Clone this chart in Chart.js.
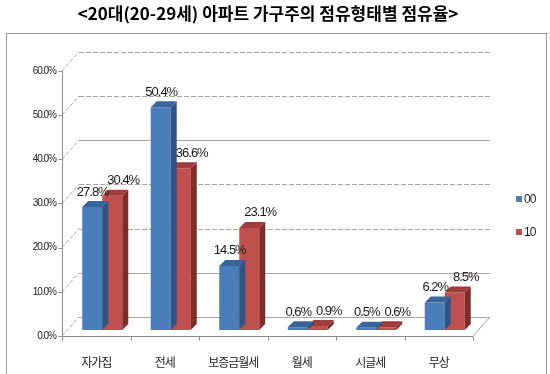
<!DOCTYPE html>
<html>
<head>
<meta charset="utf-8">
<script src="https://cdn.jsdelivr.net/npm/chart.js@4"></script>
<style>
html,body{margin:0;padding:0;background:#fff;}
#wrap{width:550px;height:374px;position:relative;}
</style>
</head>
<body>
<div id="wrap"><canvas id="c" width="550" height="374"></canvas></div>
<script>
const titleText = '<20대(20-29세) 아파트 가구주의 점유형태별 점유율>';
const categories = ['자가집', '전세', '보증금월세', '월세', '시글세', '무상'];
const seriesNames = ['00', '10'];
const values00 = [27.8, 50.4, 14.5, 0.6, 0.5, 6.2];
const values10 = [30.4, 36.6, 23.1, 0.9, 0.6, 8.5];
const yTickValues = [0, 10, 20, 30, 40, 50, 60];

// styling / geometry constants (not data)
const FRONT = {dx: -6, dy: 6};     // front axis plane relative to bar plane
const BACK = {dx: 11, dy: -13};    // back wall relative to bar plane
const DEPTH = {dx: 6, dy: 6};      // bar depth
const faceColors = ['#4A7EBB', '#C0504D'];
const sideColors = ['#2F5483', '#7E2D2B'];
const topColors = ['#3A659C', '#A03C39'];
const gridColor = '#a6a6a6';

const pseudo3d = {
  id: 'pseudo3d',
  beforeDraw(chart) {
    const ctx = chart.ctx;
    ctx.save();
    ctx.fillStyle = '#ffffff';
    ctx.fillRect(0, 0, chart.width, chart.height);
    ctx.strokeStyle = '#9a9a9a';
    ctx.lineWidth = 1;
    ctx.strokeRect(6.5, 33.5, 540, 360);
    // title
    ctx.letterSpacing = '0px';
    ctx.fillStyle = '#000';
    ctx.font = 'bold 17px "Noto Sans CJK KR", sans-serif';
    ctx.textAlign = 'center';
    ctx.textBaseline = 'middle';
    ctx.fillText(titleText, 268, 14);
    ctx.restore();
    ctx.letterSpacing = '-1px';
  },
  beforeDatasetsDraw(chart) {
    const ctx = chart.ctx;
    const ys = chart.scales.y;
    const area = chart.chartArea;
    ctx.save();
    ctx.lineWidth = 1;
    ctx.strokeStyle = gridColor;
    // back wall gridlines + left wall diagonals
    yTickValues.forEach(v => {
      const py = ys.getPixelForValue(v);
      const solid = (v === 0 || v === 10 || v === 40);
      ctx.setLineDash(solid ? [] : [5, 2]);
      ctx.beginPath();
      ctx.moveTo(area.left + BACK.dx, Math.round(py + BACK.dy) + 0.5);
      ctx.lineTo(area.right + BACK.dx, Math.round(py + BACK.dy) + 0.5);
      ctx.stroke();
      ctx.setLineDash([4, 2]);
      ctx.beginPath();
      ctx.moveTo(area.left + FRONT.dx, py + FRONT.dy);
      ctx.lineTo(area.left + BACK.dx, py + BACK.dy);
      ctx.stroke();
    });
    ctx.setLineDash([]);
    // right floor diagonal
    const p0 = ys.getPixelForValue(0);
    ctx.beginPath();
    ctx.moveTo(area.right + FRONT.dx, p0 + FRONT.dy);
    ctx.lineTo(area.right + BACK.dx, p0 + BACK.dy);
    ctx.stroke();
    // front axes
    ctx.strokeStyle = '#8c8c8c';
    const fx = Math.round(area.left + FRONT.dx) + 0.5;
    const fyTop = ys.getPixelForValue(60) + FRONT.dy;
    const fyBot = Math.round(p0 + FRONT.dy) + 0.5;
    ctx.beginPath();
    ctx.moveTo(fx, fyTop);
    ctx.lineTo(fx, fyBot);
    ctx.stroke();
    yTickValues.forEach(v => {
      const py = Math.round(ys.getPixelForValue(v) + FRONT.dy) + 0.5;
      ctx.beginPath();
      ctx.moveTo(fx - 4, py);
      ctx.lineTo(fx, py);
      ctx.stroke();
    });
    ctx.beginPath();
    ctx.moveTo(fx, fyBot);
    ctx.lineTo(area.right + FRONT.dx, fyBot);
    ctx.stroke();
    const n = categories.length;
    const cw = (area.right - area.left) / n;
    for (let i = 0; i <= n; i++) {
      const bx = Math.round(area.left + i * cw + FRONT.dx) + 0.5;
      ctx.beginPath();
      ctx.moveTo(bx, fyBot);
      ctx.lineTo(bx, fyBot + 4);
      ctx.stroke();
    }
    ctx.restore();
  },
  afterDatasetDraw(chart, args) {
    const ctx = chart.ctx;
    const i = args.index;
    const meta = chart.getDatasetMeta(i);
    ctx.save();
    meta.data.forEach(bar => {
      const p = bar.getProps(['x', 'y', 'base', 'width'], true);
      const l = p.x - p.width / 2, r = p.x + p.width / 2;
      ctx.fillStyle = sideColors[i];
      ctx.beginPath();
      ctx.moveTo(r, p.y);
      ctx.lineTo(r + DEPTH.dx, p.y - DEPTH.dy);
      ctx.lineTo(r + DEPTH.dx, p.base - DEPTH.dy);
      ctx.lineTo(r, p.base);
      ctx.closePath();
      ctx.fill();
      ctx.fillStyle = topColors[i];
      ctx.beginPath();
      ctx.moveTo(l, p.y);
      ctx.lineTo(l + DEPTH.dx, p.y - DEPTH.dy);
      ctx.lineTo(r + DEPTH.dx, p.y - DEPTH.dy);
      ctx.lineTo(r, p.y);
      ctx.closePath();
      ctx.fill();
    });
    ctx.restore();
  },
  afterDatasetsDraw(chart) {
    const ctx = chart.ctx;
    ctx.save();
    ctx.font = '13px "Liberation Sans", Arial, sans-serif';
    ctx.fillStyle = '#1a1a1a';
    ctx.textAlign = 'center';
    ctx.textBaseline = 'middle';
    chart.data.datasets.forEach((ds, di) => {
      const meta = chart.getDatasetMeta(di);
      meta.data.forEach((bar, j) => {
        const p = bar.getProps(['x', 'y'], true);
        const shift = di === 0 ? 0.5 : 11;
        ctx.fillText(ds.data[j].toFixed(1) + '%', p.x + shift, p.y - 15);
      });
    });
    // legend
    ctx.font = '12px "Liberation Sans", Arial, sans-serif';
    ctx.textAlign = 'left';
    chart.data.datasets.forEach((ds, di) => {
      const cy = 199 + di * 33;
      ctx.fillStyle = ds.backgroundColor;
      ctx.fillRect(516, cy - 3, 6, 6);
      ctx.fillStyle = '#1a1a1a';
      ctx.fillText(ds.label, 524, cy + 0.5);
    });
    ctx.restore();
  },
  afterDraw(chart) {
    chart.ctx.letterSpacing = '0px';
  }
};

new Chart(document.getElementById('c'), {
  type: 'bar',
  data: {
    labels: categories,
    datasets: [
      {label: seriesNames[0], data: values00, backgroundColor: faceColors[0]},
      {label: seriesNames[1], data: values10, backgroundColor: faceColors[1]}
    ]
  },
  options: {
    responsive: false,
    animation: false,
    devicePixelRatio: 1,
    layout: {padding: {left: 0, right: 71, top: 64.8, bottom: 0}},
    datasets: {bar: {barPercentage: 1, categoryPercentage: 0.584, borderWidth: 0}},
    plugins: {
      legend: {display: false},
      tooltip: {enabled: false},
      title: {display: false}
    },
    scales: {
      x: {
        offset: true,
        grid: {display: false, drawTicks: false},
        border: {display: false},
        ticks: {
          autoSkip: false, maxRotation: 0, minRotation: 0,
          padding: 25, labelOffset: -6, color: '#222',
          font: {family: '"Noto Sans CJK KR", sans-serif', size: 12}
        },
        afterFit(s) { s.height = 44; }
      },
      y: {
        min: 0, max: 60,
        grid: {display: false, drawTicks: false},
        border: {display: false},
        ticks: {
          stepSize: 10, padding: 12, labelOffset: 6, color: '#222',
          font: {family: '"Liberation Sans", Arial, sans-serif', size: 10},
          callback: v => v.toFixed(1) + '%'
        },
        afterFit(s) { s.width = 68; }
      }
    }
  },
  plugins: [pseudo3d]
});
</script>
</body>
</html>
